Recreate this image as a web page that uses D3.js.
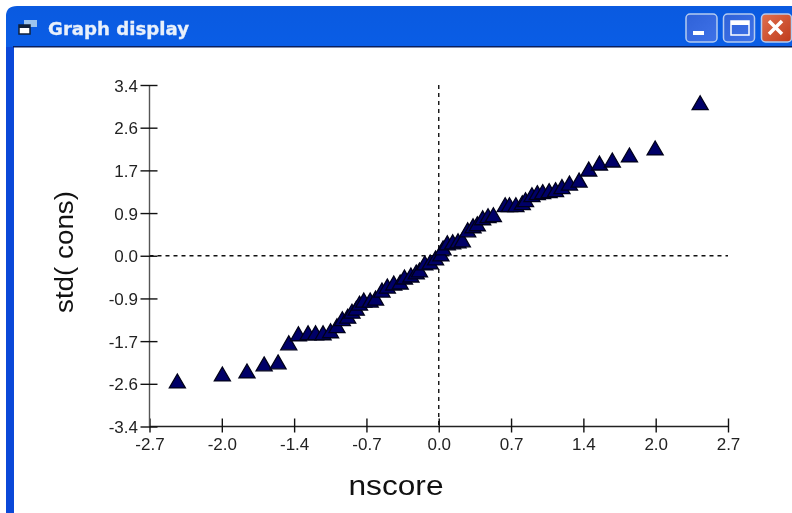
<!DOCTYPE html>
<html>
<head>
<meta charset="utf-8">
<script src="https://cdn.jsdelivr.net/npm/d3@7"></script>
<style>
html, body { margin: 0; padding: 0; background: #fff; }
svg { display: block; filter: blur(0.45px); }
</style>
</head>
<body>
<svg id="svg" width="792" height="513"></svg>
<script>
const nscore = [-2.44, -2.02, -1.79, -1.63, -1.50, -1.40, -1.31, -1.22, -1.15, -1.08, -1.01, -0.95, -0.90, -0.85, -0.81, -0.77, -0.74, -0.70, -0.64, -0.59, -0.53, -0.48, -0.42, -0.36, -0.32, -0.26, -0.21, -0.18, -0.13, -0.08, -0.03, 0.02, 0.04, 0.08, 0.13, 0.18, 0.22, 0.27, 0.32, 0.36, 0.41, 0.46, 0.51, 0.62, 0.66, 0.72, 0.78, 0.81, 0.87, 0.92, 0.97, 1.03, 1.09, 1.15, 1.22, 1.31, 1.40, 1.50, 1.62, 1.78, 2.02, 2.44]
const stdCons = [-2.51, -2.37, -2.31, -2.17, -2.13, -1.75, -1.57, -1.55, -1.55, -1.55, -1.51, -1.41, -1.27, -1.22, -1.12, -1.06, -0.96, -0.90, -0.90, -0.86, -0.70, -0.62, -0.56, -0.54, -0.44, -0.40, -0.34, -0.30, -0.16, -0.14, -0.06, 0.02, 0.14, 0.24, 0.26, 0.28, 0.30, 0.50, 0.58, 0.62, 0.74, 0.78, 0.80, 1.00, 1.00, 1.00, 1.04, 1.10, 1.20, 1.24, 1.26, 1.28, 1.30, 1.36, 1.43, 1.49, 1.71, 1.83, 1.89, 1.99, 2.13, 3.03]

const xTicks = [-2.7, -2.025, -1.35, -0.675, 0, 0.675, 1.35, 2.025, 2.7]
const xTickLabels = ['-2.7', '-2.0', '-1.4', '-0.7', '0.0', '0.7', '1.4', '2.0', '2.7']
const yTicks = [-3.4, -2.55, -1.7, -0.85, 0, 0.85, 1.7, 2.55, 3.4]
const yTickLabels = ['-3.4', '-2.6', '-1.7', '-0.9', '0.0', '0.9', '1.7', '2.6', '3.4']

const $svg = d3.select('#svg')

const scaleX = d3.scaleLinear().domain([-2.7, 2.7]).range([149.5, 728])
const scaleY = d3.scaleLinear().domain([-3.4, 3.4]).range([426.5, 85])

// window frame
const defs = $svg.append('defs')
const titleGrad = defs.append('linearGradient')
	.attr('id', 'title-grad')
	.attr('x1', 0).attr('y1', 0).attr('x2', 0).attr('y2', 1)
titleGrad.append('stop').attr('offset', '0').attr('stop-color', '#0a5ae0')
titleGrad.append('stop').attr('offset', '0.2').attr('stop-color', '#0a62ee')
titleGrad.append('stop').attr('offset', '0.75').attr('stop-color', '#0550dc')
titleGrad.append('stop').attr('offset', '1').attr('stop-color', '#0a46c8')

const redGrad = defs.append('linearGradient')
	.attr('id', 'red-grad')
	.attr('x1', 0).attr('y1', 0).attr('x2', 1).attr('y2', 1)
redGrad.append('stop').attr('offset', '0').attr('stop-color', '#e0704f')
redGrad.append('stop').attr('offset', '1').attr('stop-color', '#bf3b1c')

const btnGrad = defs.append('linearGradient')
	.attr('id', 'btn-grad')
	.attr('x1', 0).attr('y1', 0).attr('x2', 1).attr('y2', 1)
btnGrad.append('stop').attr('offset', '0').attr('stop-color', '#2f62d8')
btnGrad.append('stop').attr('offset', '1').attr('stop-color', '#3f72e8')

$svg.append('path')
	.attr('d', 'M6,513 V16 Q6,6 17,6 H792 V47 H14 V513 Z')
	.attr('fill', 'url(#title-grad)')
$svg.append('rect').attr('x', 6).attr('y', 47).attr('width', 8).attr('height', 466).attr('fill', '#0a48d8')
$svg.append('rect').attr('x', 13).attr('y', 46).attr('width', 779).attr('height', 1.5).attr('fill', '#0a1f5c')

// title icon
$svg.append('rect').attr('x', 24).attr('y', 20).attr('width', 13).attr('height', 7).attr('fill', '#9cc4ee')
$svg.append('rect').attr('x', 19).attr('y', 25).attr('width', 11).attr('height', 9).attr('fill', '#fff').attr('stroke', '#10203a').attr('stroke-width', 1.5)
$svg.append('rect').attr('x', 19).attr('y', 25).attr('width', 11).attr('height', 3).attr('fill', '#10203a')

$svg.append('text')
	.attr('x', 48).attr('y', 35)
	.attr('fill', '#e8f0fb')
	.attr('stroke', '#e8f0fb')
	.attr('stroke-width', 0.3)
	.style('font', 'bold 17px "DejaVu Sans"')
	.attr('textLength', 141)
	.attr('lengthAdjust', 'spacingAndGlyphs')
	.text('Graph display')

// window buttons
const buttons = [
	{ x: 686, w: 31, fill: 'url(#btn-grad)' },
	{ x: 723.5, w: 31, fill: 'url(#btn-grad)' },
	{ x: 761.5, w: 30, fill: 'url(#red-grad)' }
]
$svg.selectAll('.btn').data(buttons).join('rect')
	.attr('class', 'btn')
	.attr('x', d => d.x).attr('y', 14)
	.attr('width', d => d.w).attr('height', 28).attr('rx', 4)
	.attr('fill', d => d.fill)
	.attr('stroke', '#b4cbf0').attr('stroke-width', 1.5)
$svg.append('rect').attr('x', 693).attr('y', 31).attr('width', 11).attr('height', 4).attr('fill', '#fff')
$svg.append('rect').attr('x', 731).attr('y', 21).attr('width', 18).attr('height', 14).attr('fill', 'none').attr('stroke', '#fff').attr('stroke-width', 1.5)
$svg.append('rect').attr('x', 731).attr('y', 21).attr('width', 18).attr('height', 4).attr('fill', '#fff')
$svg.append('path').attr('d', 'M769,21 L782,34 M782,21 L769,34').attr('stroke', '#fff').attr('stroke-width', 3.5)

// dashed reference lines
const dashed = (x1, y1, x2, y2) => $svg.append('line')
	.attr('x1', x1).attr('y1', y1).attr('x2', x2).attr('y2', y2)
	.attr('stroke', '#111').attr('stroke-width', 1.4)
	.attr('stroke-dasharray', '4,4')
dashed(scaleX(-2.7), scaleY(0), scaleX(2.7), scaleY(0))
dashed(scaleX(0), scaleY(3.4), scaleX(0), scaleY(-3.4))

// axes
const axisBottom = d3.axisBottom(scaleX)
	.tickValues(xTicks)
	.tickSize(8)
	.tickFormat((d, i) => xTickLabels[i])
const axisLeft = d3.axisLeft(scaleY)
	.tickValues(yTicks)
	.tickSize(8)
	.tickFormat((d, i) => yTickLabels[i])

const $xAxis = $svg.append('g').attr('transform', `translate(0,${scaleY(-3.4)})`).call(axisBottom)
const $yAxis = $svg.append('g').attr('transform', `translate(${scaleX(-2.7)},0)`).call(axisLeft)

$xAxis.selectAll('.tick line').attr('y1', -8).attr('y2', 6).attr('stroke', '#111').attr('stroke-width', 1.4)
$yAxis.selectAll('.tick line').attr('x1', -9).attr('x2', 8).attr('stroke', '#111').attr('stroke-width', 1.4)
$xAxis.select('.domain').attr('d', `M${scaleX(-2.7)},0H${scaleX(2.7)}`).attr('stroke', '#222').attr('stroke-width', 1.4)
$yAxis.select('.domain').attr('d', `M0,${scaleY(3.4)}V${scaleY(-3.4)}`).attr('stroke', '#555').attr('stroke-width', 1.4)

$xAxis.selectAll('.tick text').attr('y', 11.5).attr('dy', '0.71em')
$yAxis.selectAll('.tick text').attr('x', -11.5).attr('dy', '0.36em')
$svg.selectAll('.tick text')
	.attr('fill', '#222')
	.style('font', '17px "Liberation Sans"')

// triangles, centred on their box rather than on the centroid
const triangle = d3.symbol().type(d3.symbolTriangle).size(112)
const markerOffset = 1.5
$svg.append('g').selectAll('path')
	.data(nscore.map((x, i) => ({ x, y: stdCons[i] })))
	.join('path')
	.attr('d', triangle)
	.attr('transform', d => `translate(${scaleX(d.x)},${scaleY(d.y) + markerOffset})`)
	.attr('fill', '#000068')
	.attr('stroke', '#00001a')
	.attr('stroke-width', 1.3)

// axis titles
$svg.append('text')
	.attr('x', 396).attr('y', 495)
	.attr('text-anchor', 'middle')
	.attr('fill', '#111')
	.attr('textLength', 95)
	.attr('lengthAdjust', 'spacingAndGlyphs')
	.style('font', '27px "Liberation Sans"')
	.text('nscore')
$svg.append('text')
	.attr('transform', 'translate(73,252) rotate(-90)')
	.attr('text-anchor', 'middle')
	.attr('fill', '#111')
	.attr('textLength', 122)
	.attr('lengthAdjust', 'spacingAndGlyphs')
	.style('font', '26px "Liberation Sans"')
	.text('std( cons)')
</script>
</body>
</html>
